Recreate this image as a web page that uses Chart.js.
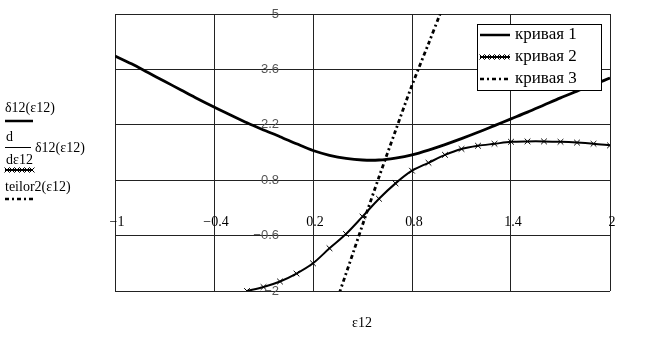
<!DOCTYPE html>
<html>
<head>
<meta charset="utf-8">
<script src="https://cdn.jsdelivr.net/npm/chart.js@4.4.1/dist/chart.umd.min.js"></script>
<style>
  html, body { margin: 0; padding: 0; background: #fff; }
  #wrap { position: relative; width: 658px; height: 362px; }
</style>
</head>
<body>
<div id="wrap"><canvas id="c" width="658" height="362"></canvas></div>
<script>
// ---- data ----
const xTicks = [-1, -0.4, 0.2, 0.8, 1.4, 2];
const yTicks = [-2, -0.6, 0.8, 2.2, 3.6, 5];
const xTickLabels = ['\u22121', '\u22120.4', '0.2', '0.8', '1.4', '2'];
const yTickLabels = ['\u22122', '\u22120.6', '0.8', '2.2', '3.6', '5'];
const seriesNames = ['кривая 1', 'кривая 2', 'кривая 3'];
const sideLabels = ['δ12(ε12)', 'd', 'δ12(ε12)', 'dε12', 'teilor2(ε12)'];
const axisTitle = 'ε12';

const eps1 = [-1, -0.9, -0.8, -0.7, -0.6, -0.5, -0.4, -0.3, -0.2, -0.1, 0, 0.1, 0.2, 0.3, 0.4, 0.5, 0.6, 0.7, 0.8, 0.9, 1.0, 1.1, 1.2, 1.3, 1.4, 1.5, 1.6, 1.7, 1.8, 1.9, 2.0];
const delta1 = [3.94, 3.74, 3.52, 3.30, 3.08, 2.86, 2.65, 2.45, 2.25, 2.07, 1.90, 1.72, 1.55, 1.43, 1.35, 1.31, 1.31, 1.36, 1.44, 1.56, 1.70, 1.85, 2.01, 2.18, 2.35, 2.52, 2.70, 2.88, 3.05, 3.22, 3.38];

const eps2 = [-0.2, -0.1, 0, 0.1, 0.2, 0.3, 0.4, 0.5, 0.6, 0.7, 0.8, 0.9, 1.0, 1.1, 1.2, 1.3, 1.4, 1.5, 1.6, 1.7, 1.8, 1.9, 2.0];
const deriv2 = [-2.0, -1.9, -1.76, -1.56, -1.30, -0.92, -0.56, -0.12, 0.33, 0.72, 1.04, 1.24, 1.44, 1.59, 1.67, 1.72, 1.77, 1.78, 1.78, 1.77, 1.75, 1.72, 1.68];

const eps3 = [0.36, 0.45, 0.527, 0.6, 0.7, 0.8, 0.9, 0.97, 1.0];
const taylor3 = [-2.05, -0.95, 0, 0.88, 2.05, 3.2, 4.25, 5.0, 5.35];

const pts = (xs, ys) => xs.map((x, i) => ({ x: x, y: ys[i] }));

function drawCross(ctx, x, y, r) {
  ctx.beginPath();
  ctx.moveTo(x - r, y - r); ctx.lineTo(x + r, y + r);
  ctx.moveTo(x - r, y + r); ctx.lineTo(x + r, y - r);
  ctx.stroke();
}

function sample(ctx, kind, x0, x1, y) {
  ctx.save();
  ctx.strokeStyle = '#000';
  if (kind === 0) {
    ctx.lineWidth = 2.5;
    ctx.beginPath(); ctx.moveTo(x0, y); ctx.lineTo(x1, y); ctx.stroke();
  } else if (kind === 1) {
    ctx.lineWidth = 2;
    ctx.beginPath(); ctx.moveTo(x0, y); ctx.lineTo(x1, y); ctx.stroke();
    ctx.lineWidth = 1;
    for (let x = x0 + 2; x <= x1 - 1; x += 5) drawCross(ctx, x, y, 2.5);
  } else {
    ctx.lineWidth = 2.5;
    ctx.setLineDash([4, 3, 2, 3]);
    ctx.beginPath(); ctx.moveTo(x0, y); ctx.lineTo(x1, y); ctx.stroke();
  }
  ctx.restore();
}

const decor = {
  id: 'decor',
  afterDraw(chart) {
    const ctx = chart.ctx;
    const xs = chart.scales.x, ys = chart.scales.y;
    ctx.save();
    // y tick labels along x = 0
    const x0 = xs.getPixelForValue(0);
    ctx.font = '13px "Liberation Sans", Arial, sans-serif';
    ctx.fillStyle = '#555';
    ctx.textAlign = 'right';
    ctx.textBaseline = 'middle';
    yTicks.forEach((v, i) => ctx.fillText(yTickLabels[i], x0 - 1, ys.getPixelForValue(v)));
    // x tick labels below y = 0
    const y0 = ys.getPixelForValue(0);
    ctx.font = '14px "Liberation Serif", "Times New Roman", serif';
    ctx.fillStyle = '#000';
    ctx.textAlign = 'center';
    xTicks.forEach((v, i) => ctx.fillText(xTickLabels[i], xs.getPixelForValue(v) + 2, y0 + 10));

    // legend
    const bx = 477, by = 24, bw = 124, bh = 66;
    ctx.fillStyle = '#fff';
    ctx.fillRect(bx, by, bw, bh);
    ctx.strokeStyle = '#000';
    ctx.lineWidth = 1;
    ctx.strokeRect(bx + 0.5, by + 0.5, bw, bh);
    ctx.font = '17px "Liberation Serif", "Times New Roman", serif';
    ctx.fillStyle = '#000';
    ctx.textAlign = 'left';
    ctx.textBaseline = 'middle';
    seriesNames.forEach((n, i) => {
      const yy = 35 + i * 22;
      sample(ctx, i, 480, 510, yy);
      ctx.fillText(n, 515, yy);
    });

    // left side labels
    ctx.font = '14px "Liberation Serif", "Times New Roman", serif';
    ctx.textBaseline = 'alphabetic';
    ctx.fillText(sideLabels[0], 5, 112);
    sample(ctx, 0, 5, 33, 121);
    ctx.fillText(sideLabels[1], 6, 141);
    ctx.lineWidth = 1;
    ctx.beginPath(); ctx.moveTo(5, 147.5); ctx.lineTo(31, 147.5); ctx.stroke();
    ctx.fillText(sideLabels[2], 35, 152);
    ctx.fillText(sideLabels[3], 6, 164);
    sample(ctx, 1, 5, 33, 170);
    ctx.fillText(sideLabels[4], 5, 191);
    sample(ctx, 2, 5, 33, 199);

    // axis title
    ctx.textAlign = 'center';
    ctx.fillText(axisTitle, 362, 327);
    ctx.restore();
  }
};

const gridColor = (c) => (c.tick && c.tick.value === 0) ? '#8a8a8a' : '#222';

new Chart(document.getElementById('c'), {
  type: 'scatter',
  data: {
    datasets: [
      { label: seriesNames[0], data: pts(eps1, delta1), showLine: true, borderColor: '#000', borderWidth: 2.8, pointRadius: 0, tension: 0.3, clip: 0 },
      { label: seriesNames[1], data: pts(eps2, deriv2), showLine: true, borderColor: '#000', borderWidth: 2, pointStyle: 'crossRot', pointRadius: 4, pointBorderWidth: 1, pointBorderColor: '#000', pointBackgroundColor: '#000', tension: 0.3, clip: 0 },
      { label: seriesNames[2], data: pts(eps3, taylor3), showLine: true, borderColor: '#000', borderWidth: 2.8, borderDash: [4, 3, 2, 3], pointRadius: 0, tension: 0.3, clip: 0 }
    ]
  },
  options: {
    responsive: false,
    animation: false,
    layout: { padding: { left: 115, top: 14, right: 48, bottom: 71 } },
    plugins: { legend: { display: false }, tooltip: { enabled: false } },
    scales: {
      x: {
        type: 'linear', min: -1, max: 2,
        afterBuildTicks: (s) => { s.ticks = xTicks.map(v => ({ value: v })); },
        ticks: { display: false },
        grid: { color: gridColor, lineWidth: 1, drawTicks: false },
        border: { display: false }
      },
      y: {
        type: 'linear', min: -2, max: 5,
        afterBuildTicks: (s) => { s.ticks = yTicks.map(v => ({ value: v })); },
        ticks: { display: false },
        grid: { color: gridColor, lineWidth: 1, drawTicks: false },
        border: { display: false }
      }
    }
  },
  plugins: [decor]
});
</script>
</body>
</html>
